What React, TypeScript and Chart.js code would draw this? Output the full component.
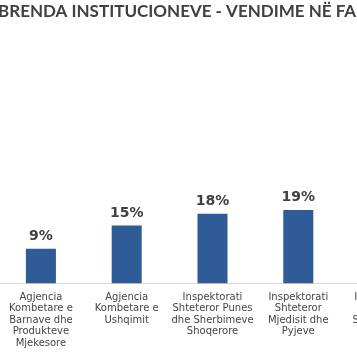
import React, { useEffect, useRef } from "react";
import { Chart, registerables } from "chart.js";

Chart.register(...registerables);

const titleText = "BRENDA INSTITUCIONEVE - VENDIME NË FA";

const categories: string[][] = [
  ["Agjencia", "Kombetare e", "Barnave dhe", "Produkteve", "Mjekesore"],
  ["Agjencia", "Kombetare e", "Ushqimit"],
  ["Inspektorati", "Shteteror Punes", "dhe Sherbimeve", "Shoqerore"],
  ["Inspektorati", "Shteteror", "Mjedisit dhe", "Pyjeve"],
  ["Inspektorati", "Shteteror", "Shendetesor"],
];

const values: number[] = [9, 15, 18, 19, 20];

const valueLabels = {
  id: "valueLabels",
  afterDatasetsDraw(chart: any) {
    const ctx = chart.ctx;
    const meta = chart.getDatasetMeta(0);
    ctx.save();
    ctx.font = 'bold 14px "DejaVu Sans"';
    ctx.fillStyle = "#404040";
    ctx.textAlign = "center";
    ctx.textBaseline = "middle";
    meta.data.forEach((bar: any, i: number) => {
      ctx.fillText(values[i] + "%", bar.x, bar.y - 12.5);
    });
    ctx.restore();
  },
};

export default function App() {
  const ref = useRef<HTMLCanvasElement | null>(null);

  useEffect(() => {
    if (!ref.current) return;
    const chart = new Chart(ref.current, {
      type: "bar",
      data: {
        labels: categories,
        datasets: [
          {
            data: values,
            backgroundColor: "#2F5B96",
            borderWidth: 0,
            categoryPercentage: 1,
            barPercentage: 0.35,
          },
        ],
      },
      options: {
        responsive: false,
        animation: false,
        layout: { padding: { left: 0, right: 0, top: 0, bottom: 0 } },
        plugins: {
          legend: { display: false },
          tooltip: { enabled: false },
          title: {
            display: true,
            text: titleText,
            align: "start",
            color: "#404040",
            font: { family: "Lato", size: 17, weight: "bold", lineHeight: 1.2 },
            padding: { top: 1, bottom: 30 },
          },
        },
        scales: {
          x: {
            grid: { display: false, drawTicks: false },
            border: { display: true, color: "#D9D9D9", width: 1 },
            ticks: {
              color: "#454545",
              padding: 8,
              maxRotation: 0,
              autoSkip: false,
              font: { family: "DejaVu Sans", size: 10, lineHeight: 1.15 },
            },
          },
          y: {
            display: false,
            min: 0,
            max: 60,
          },
        },
      },
      plugins: [valueLabels],
    });
    return () => chart.destroy();
  }, []);

  return (
    <div
      style={{
        position: "fixed",
        left: 0,
        top: 0,
        width: 357,
        height: 357,
        overflow: "hidden",
        background: "#ffffff",
      }}
    >
      <canvas
        ref={ref}
        width={429}
        height={357}
        style={{ position: "absolute", left: -2, top: 0, width: 429, height: 357 }}
      />
    </div>
  );
}
